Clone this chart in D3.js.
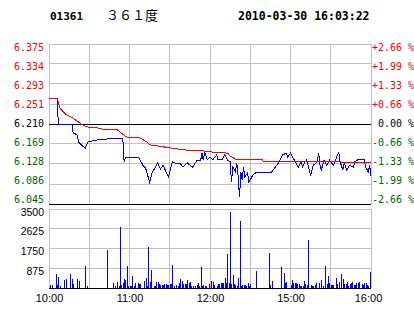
<!DOCTYPE html>
<html>
<head>
<meta charset="utf-8">
<script src="https://cdn.jsdelivr.net/npm/d3@7/dist/d3.min.js"></script>
<style>
  body { margin: 0; background: #fff; }
  svg { display: block; }
</style>
</head>
<body>
<div id="chart-area"></div>
<script>
// header
const CODE = "01361";
const NAME = "３６１度";
const STAMP = "2010-03-30 16:03:22";

// price axis ticks (prev close 6.210)
const priceTicks = [6.375, 6.334, 6.293, 6.251, 6.210, 6.169, 6.128, 6.086, 6.045];
const pctLabels = ["+2.66 %", "+1.99 %", "+1.33 %", "+0.66 %", " 0.00 %", "-0.66 %", "-1.33 %", "-1.99 %", "-2.66 %"];
const volTicks = [875, 1750, 2625, 3500];
const timeTicks = [0, 60, 120, 180, 240];
const timeLabels = ["10:00", "11:00", "12:00", "15:00", "16:00"];

// price line, minutes from 10:00 (trading minutes)
const priceMin = [0,6,7,17,18,19,21,22,24,27,29,36,43,49,55,56,57,67,70,72,75,77,79,81,83,85,89,92,95,98,100,103,107,110,113,114,115,116,118,120,122,125,126,129,131,133,135,136,137,139,140,141,142,143,144,145,146,148,149,152,155,166,171,174,177,178,180,182,185,186,188,189,191,192,195,197,200,201,202,203,205,207,209,212,215,216,217,219,220,222,224,227,228,230,235,236,238,239,240];
const price = [6.262,6.262,6.210,6.210,6.191,6.191,6.187,6.173,6.167,6.160,6.173,6.177,6.179,6.181,6.181,6.132,6.140,6.140,6.125,6.119,6.090,6.111,6.119,6.130,6.117,6.125,6.101,6.132,6.128,6.128,6.121,6.130,6.121,6.134,6.134,6.150,6.136,6.152,6.136,6.142,6.136,6.146,6.136,6.136,6.146,6.136,6.132,6.090,6.121,6.111,6.130,6.101,6.059,6.111,6.095,6.121,6.101,6.109,6.090,6.105,6.111,6.111,6.130,6.146,6.150,6.142,6.150,6.140,6.125,6.121,6.132,6.121,6.132,6.136,6.105,6.125,6.132,6.150,6.125,6.115,6.136,6.125,6.136,6.125,6.146,6.152,6.132,6.115,6.130,6.115,6.125,6.121,6.132,6.136,6.136,6.121,6.111,6.125,6.103];

// average price line
const avgMin = [0,6,7,8,13,18,22,25,28,36,42,51,54,58,68,73,75,85,92,103,118,122,133,135,140,159,160,217,219,240];
const avg = [6.262,6.262,6.255,6.243,6.229,6.222,6.214,6.208,6.204,6.202,6.198,6.198,6.191,6.183,6.181,6.173,6.167,6.163,6.160,6.156,6.154,6.152,6.150,6.144,6.136,6.136,6.132,6.132,6.130,6.130];

// volume
const volMin = [1,2,5,6,7,8,11,13,16,17,18,21,22,27,28,43,48,49,51,52,53,54,55,56,57,58,59,60,61,62,63,64,66,67,68,71,72,73,74,75,76,78,79,80,81,82,83,84,85,86,87,88,89,90,91,92,93,95,96,97,98,99,100,101,102,103,104,105,106,107,109,110,111,112,113,114,115,116,117,119,121,122,123,125,126,127,128,129,130,131,132,133,134,135,136,137,138,139,140,141,142,143,144,145,146,147,148,149,150,154,164,165,166,173,175,176,177,180,181,182,183,184,185,186,187,188,189,190,191,192,193,195,196,197,198,199,201,203,204,206,207,208,209,210,211,212,214,215,216,218,219,220,221,222,223,224,225,226,227,228,229,230,231,233,234,235,236,237,238,239];
const vol = [130,130,620,130,490,90,350,400,620,400,180,400,310,970,90,1680,220,90,270,90,2700,130,220,400,350,970,90,90,90,530,90,220,220,180,180,310,440,90,1800,270,800,90,90,270,270,180,130,130,130,180,180,130,130,180,180,1020,90,130,90,220,400,310,180,180,180,350,220,270,90,90,90,130,220,90,930,90,130,90,90,180,310,270,130,90,180,180,220,220,220,440,220,1510,220,3370,180,580,180,130,90,440,2970,90,130,130,130,90,220,90,180,750,1550,130,310,930,660,220,270,130,350,220,220,220,180,180,90,90,90,310,180,130,2130,130,90,90,130,220,220,350,90,970,180,530,220,130,130,130,440,180,270,620,400,180,180,270,90,180,220,270,130,130,220,220,270,180,130,220,220,130,90,710];

const W = 414, H = 314;
const RED = "#ff0000", GREEN = "#006600", GRID = "#c0c0c0";
const MONO = "'DejaVu Sans Mono', monospace";
const SANS = "'Liberation Sans', Arial, sans-serif";

const svg = d3.select("#chart-area").append("svg")
    .attr("width", W)
    .attr("height", H)

const x = d3.scaleLinear().domain([0, 240]).range([49, 371]);
const yP = d3.scaleLinear().domain([6.045, 6.375]).range([204, 44]);
const yV = d3.scaleLinear().domain([0, 3500]).range([288, 209]);

const labelColor = i => i < 4 ? RED : (i === 4 ? "#000" : GREEN);

// header
svg.append("text").attr("x", 50).attr("y", 20)
    .attr("font-family", MONO).attr("font-size", 11).attr("font-weight", "bold")
    .text(CODE)
svg.append("text").attr("x", 106).attr("y", 20)
    .attr("font-family", "'Noto Sans CJK SC', sans-serif").attr("font-size", 13)
    .text(NAME)
svg.append("text").attr("x", 238).attr("y", 20)
    .attr("font-family", MONO).attr("font-size", 11.5).attr("font-weight", "bold")
    .text(STAMP)

// grid
const grid = svg.append("g").attr("shape-rendering", "crispEdges");
const vTicks = d3.range(0, 241, 30);
grid.selectAll(".vp").data(vTicks).enter().append("line")
    .attr("x1", d => x(d)).attr("x2", d => x(d))
    .attr("y1", yP(6.375)).attr("y2", yP(6.045))
    .attr("stroke", GRID)
grid.selectAll(".vv").data(vTicks).enter().append("line")
    .attr("x1", d => x(d)).attr("x2", d => x(d))
    .attr("y1", yV(3500)).attr("y2", yV(0))
    .attr("stroke", GRID)
grid.selectAll(".hp").data(priceTicks).enter().append("line")
    .attr("x1", x(0)).attr("x2", x(240))
    .attr("y1", d => yP(d)).attr("y2", d => yP(d))
    .attr("stroke", d => (d === 6.210 || d === 6.045) ? "#000" : GRID)
grid.selectAll(".hv").data([0].concat(volTicks)).enter().append("line")
    .attr("x1", x(0)).attr("x2", x(240))
    .attr("y1", d => yV(d)).attr("y2", d => yV(d))
    .attr("stroke", d => d === 0 ? "#000" : GRID)

// axes
const leftAxis = svg.append("g")
    .attr("transform", `translate(${x(0)},0)`)
    .call(d3.axisLeft(yP).tickValues(priceTicks).tickFormat(d => d.toFixed(3)).tickSize(0).tickPadding(5))
const rightAxis = svg.append("g")
    .attr("transform", `translate(${x(240)},0)`)
    .call(d3.axisRight(yP).tickValues(priceTicks).tickFormat((d, i) => pctLabels[i]).tickSize(0).tickPadding(1))
;[leftAxis, rightAxis].forEach(a => {
    a.select(".domain").remove();
    a.selectAll("text")
        .attr("font-family", MONO).attr("font-size", 10)
        .style("white-space", "pre")
        .attr("fill", (d, i) => labelColor(i))
        .attr("transform", (d, i) => `translate(0,${3 - 0.94 * i})`)
});

const volAxis = svg.append("g")
    .attr("transform", `translate(${x(0)},0)`)
    .call(d3.axisLeft(yV).tickValues(volTicks).tickFormat(d3.format("d")).tickSize(0).tickPadding(5))
volAxis.select(".domain").remove();
volAxis.selectAll("text")
    .attr("font-family", SANS).attr("font-size", 10.5).attr("fill", "#000")
    .attr("transform", d => `translate(0,${d === 3500 ? 3.5 : 2.5})`)

const timeAxis = svg.append("g")
    .attr("transform", `translate(0,${yV(0)})`)
    .call(d3.axisBottom(x).tickValues(timeTicks).tickFormat((d, i) => timeLabels[i]).tickSize(0).tickPadding(6))
timeAxis.select(".domain").remove();
timeAxis.selectAll("text")
    .attr("font-family", SANS).attr("font-size", 11).attr("fill", "#000")
    .attr("transform", d => d === 240 ? "translate(-3,0)" : null)

// volume bars
svg.append("g").attr("shape-rendering", "crispEdges")
    .selectAll("rect").data(volMin).enter().append("rect")
    .attr("x", d => Math.round(x(d)))
    .attr("width", 1)
    .attr("y", (d, i) => yV(vol[i]))
    .attr("height", (d, i) => yV(0) - yV(vol[i]))
    .attr("fill", "#0000ff")

// lines
const line = d3.line().x(d => x(d[0])).y(d => yP(d[1]));
svg.append("path")
    .attr("d", line(priceMin.map((m, i) => [m, price[i]])))
    .attr("fill", "none").attr("stroke", "#0000ff").attr("stroke-width", 1)
    .attr("shape-rendering", "crispEdges")
svg.append("path")
    .attr("d", line(avgMin.map((m, i) => [m, avg[i]])))
    .attr("fill", "none").attr("stroke", RED).attr("stroke-width", 1)
    .attr("shape-rendering", "crispEdges")
</script>
</body>
</html>
